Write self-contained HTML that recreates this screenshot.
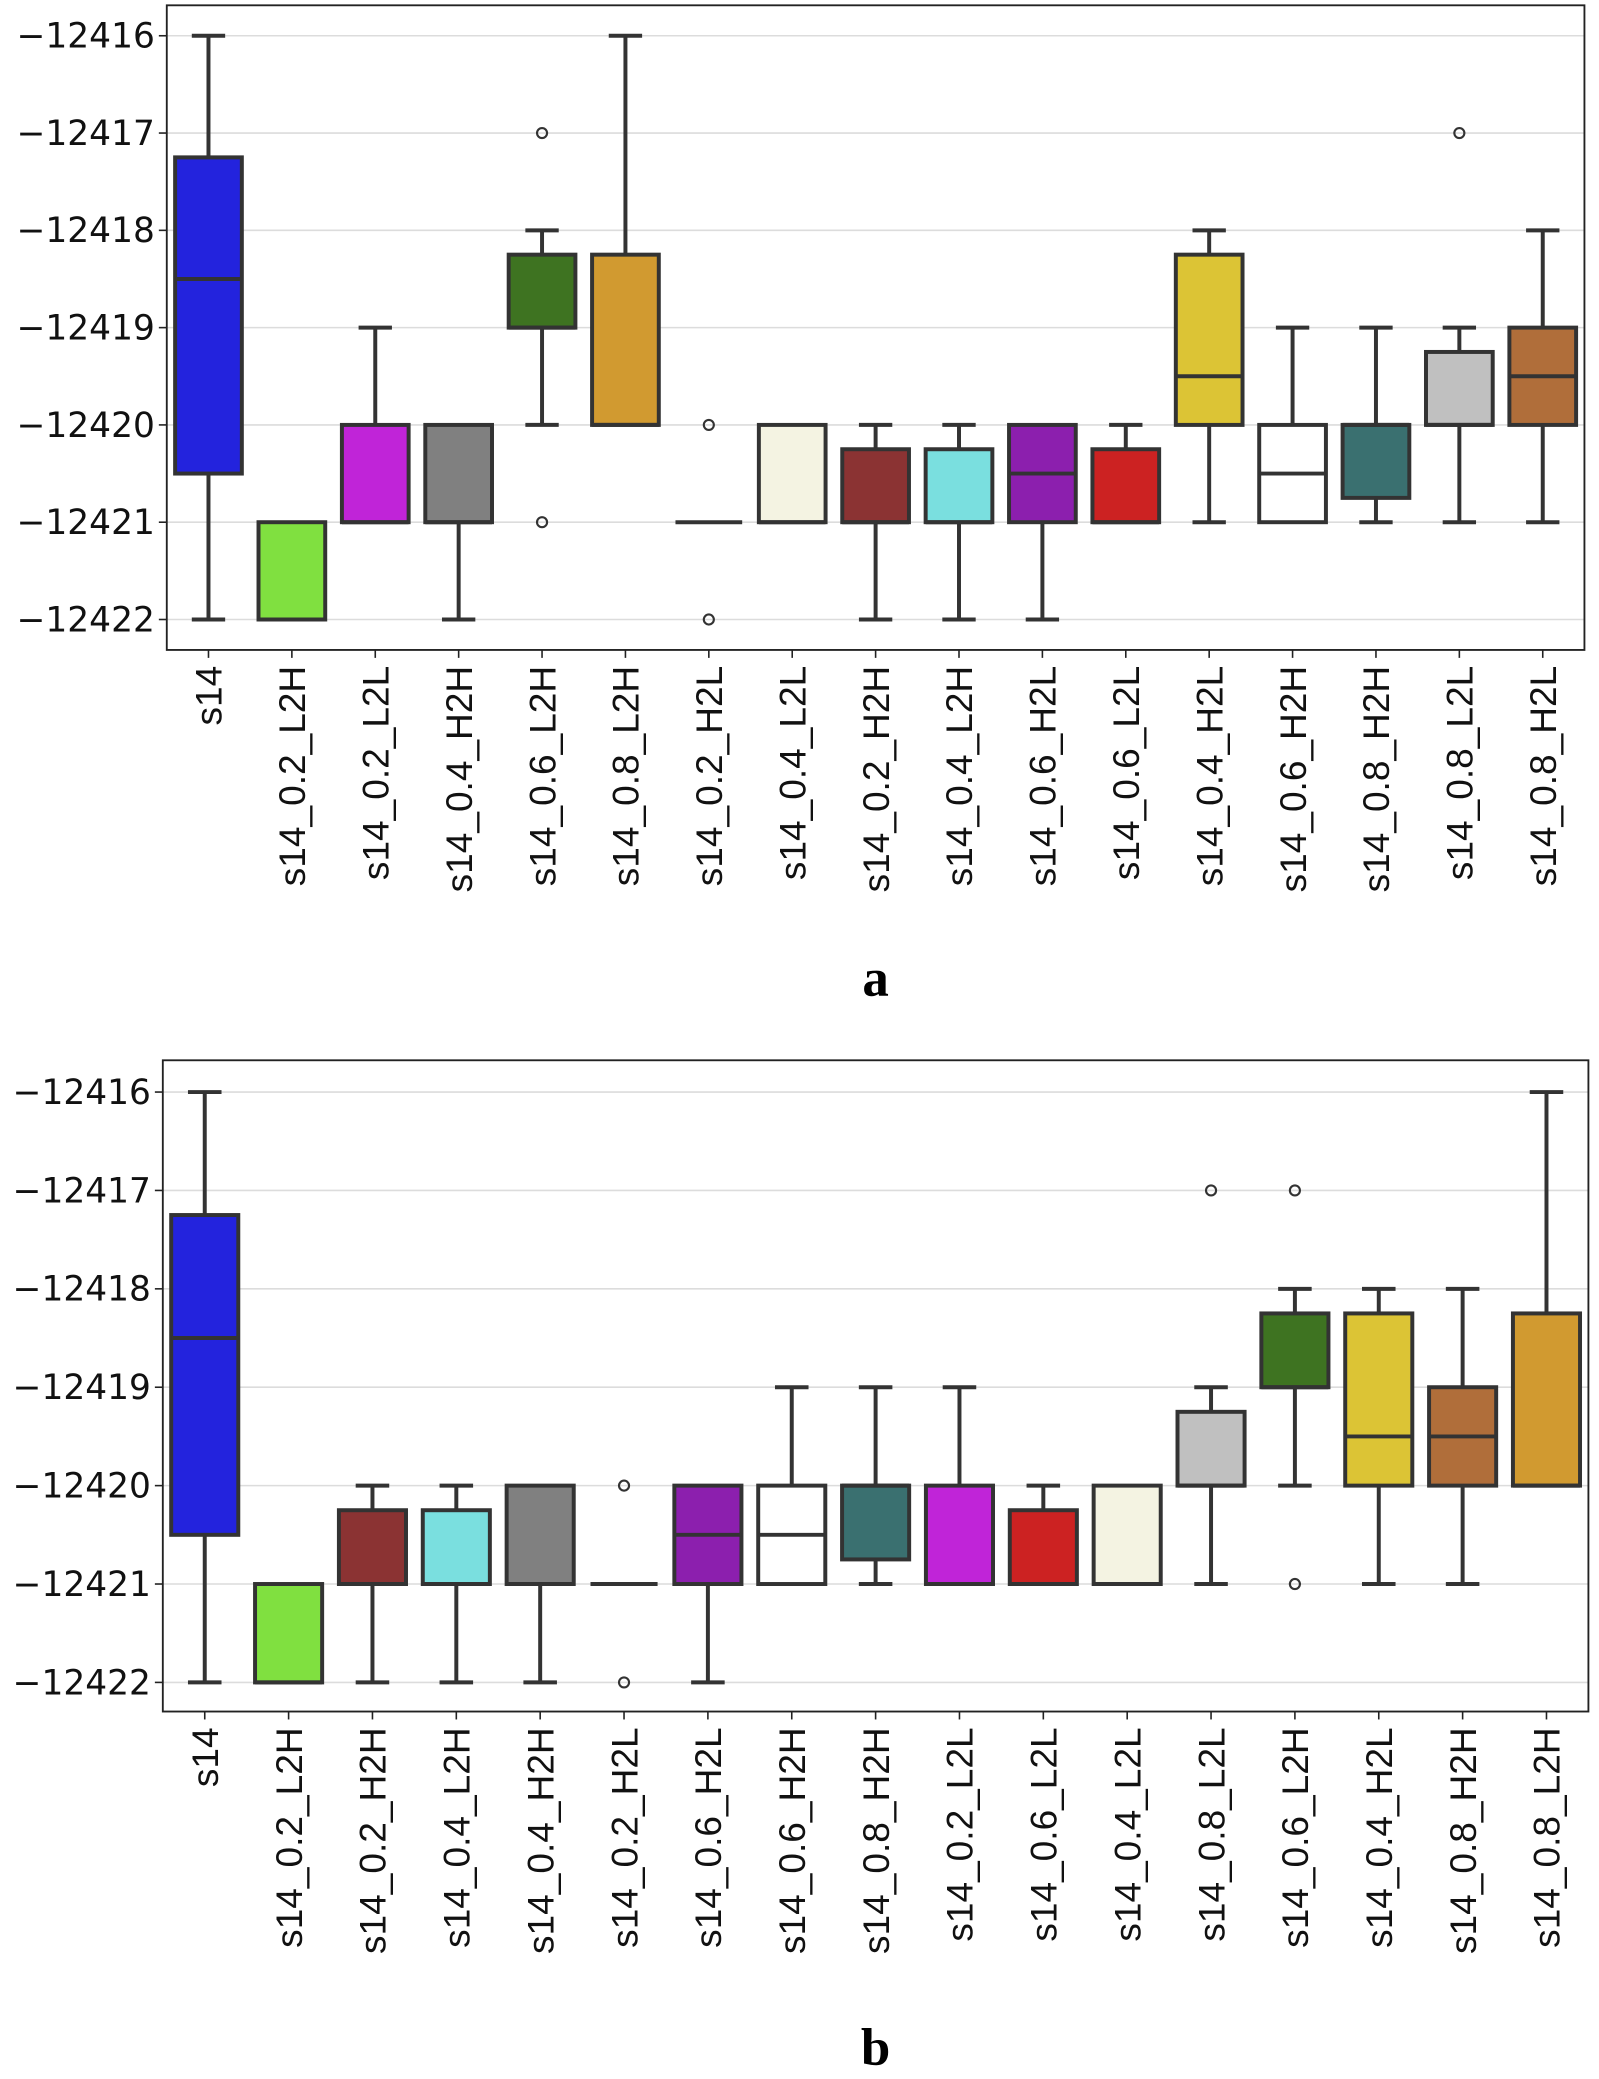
<!DOCTYPE html>
<html><head><meta charset="utf-8"><style>
html,body{margin:0;padding:0;background:#fff}
svg{display:block}
</style></head><body>
<svg id="fig" width="1599" height="2079" viewBox="0 0 1208 1570.6" xmlns="http://www.w3.org/2000/svg" font-family="'DejaVu Sans','Liberation Sans',sans-serif"></svg>
<script>
// stats keyed by group name: [q1, median, q3, whiskerLow, whiskerHigh]
const statKeys = ["s14","s14_0.2_L2H","s14_0.2_L2L","s14_0.4_H2H","s14_0.6_L2H","s14_0.8_L2H","s14_0.2_H2L","s14_0.4_L2L","s14_0.2_H2H","s14_0.4_L2H","s14_0.6_H2L","s14_0.6_L2L","s14_0.4_H2L","s14_0.6_H2H","s14_0.8_H2H","s14_0.8_L2L","s14_0.8_H2L"];
const q1Vals  = [-12420.5,-12422,-12421,-12421,-12419,-12420,-12421,-12421,-12421,-12421,-12421,-12421,-12420,-12421,-12420.75,-12420,-12420];
const medVals = [-12418.5,-12422,-12421,-12421,-12419,-12420,-12421,-12421,-12421,-12421,-12420.5,-12421,-12419.5,-12420.5,-12420,-12420,-12419.5];
const q3Vals  = [-12417.25,-12421,-12420,-12420,-12418.25,-12418.25,-12421,-12420,-12420.25,-12420.25,-12420,-12420.25,-12418.25,-12420,-12420,-12419.25,-12419];
const loVals  = [-12422,-12422,-12421,-12422,-12420,-12420,-12421,-12421,-12422,-12422,-12422,-12421,-12421,-12421,-12421,-12421,-12421];
const hiVals  = [-12416,-12421,-12419,-12420,-12418,-12416,-12421,-12420,-12420,-12420,-12420,-12420,-12418,-12419,-12419,-12419,-12418];
const outlierVals = [[],[],[],[],[-12417,-12421],[],[-12420,-12422],[],[],[],[],[],[],[],[],[-12417],[]];
const colorVals = ["#2323dd","#80e040","#c024d8","#808080","#3e7321","#d19a30","#ffffff","#f4f3e2","#8b3333","#7adfdf","#8c1fae","#cc2222","#dcc435","#ffffff","#3a7070","#c0c0c0","#b06e3a"];
const yTicks = [-12416,-12417,-12418,-12419,-12420,-12421,-12422];
const labelsA = ["s14","s14_0.2_L2H","s14_0.2_L2L","s14_0.4_H2H","s14_0.6_L2H","s14_0.8_L2H","s14_0.2_H2L","s14_0.4_L2L","s14_0.2_H2H","s14_0.4_L2H","s14_0.6_H2L","s14_0.6_L2L","s14_0.4_H2L","s14_0.6_H2H","s14_0.8_H2H","s14_0.8_L2L","s14_0.8_H2L"];
const idxA = [0,1,2,3,4,5,6,7,8,9,10,11,12,13,14,15,16];
const labelsB = ["s14","s14_0.2_L2H","s14_0.2_H2H","s14_0.4_L2H","s14_0.4_H2H","s14_0.2_H2L","s14_0.6_H2L","s14_0.6_H2H","s14_0.8_H2H","s14_0.2_L2L","s14_0.6_L2L","s14_0.4_L2L","s14_0.8_L2L","s14_0.6_L2H","s14_0.4_H2L","s14_0.8_H2H","s14_0.8_L2H"];
const idxB = [0,1,8,9,3,6,10,13,14,2,11,7,15,4,12,16,5];

const NS="http://www.w3.org/2000/svg";
const fig=document.getElementById('fig');
function mk(tag,attrs,parent){const e=document.createElementNS(NS,tag);for(const k in attrs)e.setAttribute(k,attrs[k]);(parent||fig).appendChild(e);return e;}

function drawChart(cfg,labels,idx,tag){
  const g=mk('g',{});
  
  
  const y=v=>cfg.y0+(v-yTicks[0])/(yTicks[yTicks.length-1]-yTicks[0])*(cfg.y1-cfg.y0);
  const n=labels.length;
  const step=(cfg.right-cfg.left)/n;
  const x=i=>cfg.left+step*(i+0.5);
  yTicks.forEach(t=>{
    const l=mk('line',{x1:cfg.left,x2:cfg.right,y1:y(t),y2:y(t),stroke:'#dcdcdc','stroke-width':1.2},g);
    
    
    mk('line',{x1:cfg.left-6,x2:cfg.left,y1:y(t),y2:y(t),stroke:'#222','stroke-width':1.2},g);
    const tx=mk('text',{x:cfg.left-9,y:y(t)+9,'text-anchor':'end','font-size':26,fill:'#111'},g);
    tx.textContent='\u2212'+Math.abs(t);
    
    
  });
  const bw=step*0.8, cw=step*0.4;
  labels.forEach((lab,i)=>{
    const k=idx[i];const cx=x(i);
    const bg=mk('g',{},g);
    
    
    const st={stroke:'#333','stroke-width':3};
    if(hiVals[k]>q3Vals[k]){mk('line',Object.assign({x1:cx,x2:cx,y1:y(q3Vals[k]),y2:y(hiVals[k])},st),bg);}
    if(loVals[k]<q1Vals[k]){mk('line',Object.assign({x1:cx,x2:cx,y1:y(q1Vals[k]),y2:y(loVals[k])},st),bg);}
    if(hiVals[k]!==q3Vals[k]) mk('line',Object.assign({x1:cx-cw/2,x2:cx+cw/2,y1:y(hiVals[k]),y2:y(hiVals[k])},st),bg);
    if(loVals[k]!==q1Vals[k]) mk('line',Object.assign({x1:cx-cw/2,x2:cx+cw/2,y1:y(loVals[k]),y2:y(loVals[k])},st),bg);
    const top=y(q3Vals[k]),bot=y(q1Vals[k]);
    if(bot-top>0.5) mk('rect',Object.assign({x:cx-bw/2,y:top,width:bw,height:bot-top,fill:colorVals[k]},st),bg);
    mk('line',Object.assign({x1:cx-bw/2,x2:cx+bw/2,y1:y(medVals[k]),y2:y(medVals[k])},st),bg);
    outlierVals[k].forEach(o=>{
      const c=mk('circle',{cx:cx,cy:y(o),r:3.8,fill:'none',stroke:'#333','stroke-width':1.6},bg);
      
      
    });
    mk('line',{x1:cx,x2:cx,y1:cfg.bottom,y2:cfg.bottom+6,stroke:'#222','stroke-width':1.2},g);
    const tx=mk('text',{x:0,y:0,'text-anchor':'end','font-size':28,fill:'#111',transform:`translate(${cx+10},${cfg.bottom+12}) rotate(-90)`,'font-family':"'Liberation Sans',sans-serif"},g);
    tx.textContent=lab;
    
    
  });
  const fr=mk('rect',{x:cfg.left,y:cfg.top,width:cfg.right-cfg.left,height:cfg.bottom-cfg.top,fill:'none',stroke:'#222','stroke-width':1.4},g);
  
  
  const t=mk('text',{x:(cfg.left+cfg.right)/2,y:cfg.capY,'text-anchor':'middle','font-size':40,'font-weight':'bold','font-family':"'Liberation Serif',serif",fill:'#000'});
  t.textContent=tag;
  
  
}
drawChart({left:126,right:1197,top:4,bottom:491,y0:27,y1:468,capY:752},labelsA,idxA,'a');
drawChart({left:123,right:1200,top:801,bottom:1293,y0:825,y1:1271,capY:1560},labelsB,idxB,'b');
</script>
</body></html>
